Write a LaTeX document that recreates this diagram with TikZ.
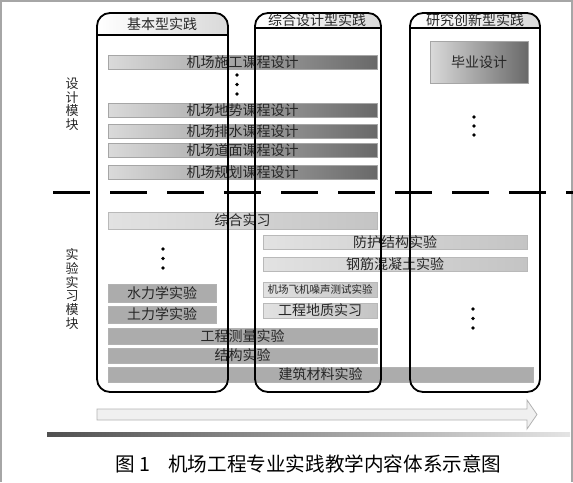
\documentclass[tikz,border=0pt]{standalone}
\usepackage{fontspec}
\setmainfont{Noto Sans CJK SC}
\definecolor{dbL}{RGB}{218,218,218}
\definecolor{dbR}{RGB}{105,105,105}
\definecolor{lbL}{RGB}{226,226,226}
\definecolor{lbR}{RGB}{196,196,196}
\definecolor{mb}{RGB}{172,172,172}
\definecolor{glL}{RGB}{80,80,80}
\definecolor{glR}{RGB}{228,228,228}
\newcommand\mybar[7]{%
  \node (#1) [#2, minimum width={(#4-#3)*1pt}, minimum height={(#6-#5)*1pt}]
    at ({(#3+#4)/2},{(#5+#6)/2}) {#7};}
\begin{document}
\begin{tikzpicture}[x=1pt,y=-1pt,
  colline/.style={line width=1.8pt, draw=black, rounded corners=13pt},
  hdrfill/.style={left color=white, right color=gray!30},
  barbase/.style={inner sep=0pt, outer sep=0pt, text=black!85,
    font=\fontsize{14}{14}\selectfont, line width=0.6pt},
  darkbar/.style={barbase, draw=gray!70, left color=dbL, right color=dbR},
  lightbar/.style={barbase, draw=gray!55, left color=lbL, right color=lbR},
  midbar/.style={barbase, draw=gray!60, fill=mb},
  hdrtext/.style={inner sep=0pt, font=\fontsize{14}{14}\selectfont, text=black!85},
  vlabel/.style={inner sep=0pt, align=center, text=black!85},
  dotmark/.style={fill=black}
]
\useasboundingbox (0,0) rectangle (573,482);
% frame
\draw[gray!70, line width=1.5pt] (0.75,482) -- (0.75,0.75) -- (572,0.75) -- (572,482);

% header fills
\begin{scope}\clip[rounded corners=13pt] (97,13) rectangle (228,392);
  \fill[hdrfill] (97,13) rectangle (228,35);\end{scope}
\begin{scope}\clip[rounded corners=13pt] (255,13) rectangle (381,392);
  \fill[hdrfill] (255,13) rectangle (381,28);\end{scope}
\begin{scope}\clip[rounded corners=13pt] (410,13) rectangle (540,392);
  \fill[hdrfill] (410,13) rectangle (540,28);\end{scope}

% design module bars
\mybar{d1}{darkbar}{108}{377}{55}{69}{机场施工课程设计}
\mybar{d2}{darkbar}{108}{377}{103}{117}{机场地势课程设计}
\mybar{d3}{darkbar}{108}{377}{124}{138}{机场排水课程设计}
\mybar{d4}{darkbar}{108}{377}{143}{157}{机场道面课程设计}
\mybar{d5}{darkbar}{108}{377}{165}{179}{机场规划课程设计}
\mybar{bysj}{darkbar}{430}{528}{41}{83}{毕业设计}

% experiment module bars
\mybar{e1}{lightbar}{108}{377}{212}{229}{综合实习}
\mybar{e2}{lightbar}{263}{527}{235}{249}{防护结构实验}
\mybar{e3}{lightbar}{263}{527}{257}{271}{钢筋混凝土实验}
\mybar{e4}{lightbar, font=\fontsize{10.5}{10.5}\selectfont}{263}{377}{282}{297}{机场飞机噪声测试实验}
\mybar{e5}{lightbar}{263}{377}{303}{318}{工程地质实习}
\mybar{e6}{midbar}{108}{216}{284}{302}{水力学实验}
\mybar{e7}{midbar}{108}{216}{306}{323}{土力学实验}
\mybar{e8}{midbar}{108}{377}{328}{344}{工程测量实验}
\mybar{e9}{midbar}{108}{377}{348}{363}{结构实验}
\mybar{e10}{midbar}{108}{533}{367}{382}{建筑材料实验}

% column outlines
\draw[colline] (97,13) rectangle (228,392);
\draw[line width=1.8pt] (97,35) -- (228,35);
\draw[colline] (255,13) rectangle (381,392);
\draw[line width=1.8pt] (255,28) -- (381,28);
\draw[colline] (410,13) rectangle (540,392);
\draw[line width=1.8pt] (410,28) -- (540,28);

% headers
\node (h1) [hdrtext] at (162,24) {基本型实践};
\node (h2) [hdrtext] at (317,20.5) {综合设计型实践};
\node (h3) [hdrtext] at (475,20.5) {研究创新型实践};

% dashed separator
\draw[line width=3pt, dash pattern=on 37pt off 20pt] (53,192) -- (573,192);

% dots
\foreach \yy in {75,84.5,94} \fill[dotmark] (237,\yy) circle[radius=1.9pt];
\foreach \yy in {117,126,135} \fill[dotmark] (474,\yy) circle[radius=1.9pt];
\foreach \yy in {249,258.5,268} \fill[dotmark] (163,\yy) circle[radius=1.9pt];
\foreach \yy in {309,318.5,328} \fill[dotmark] (473,\yy) circle[radius=1.9pt];

% left labels
\node (lm1) [vlabel, font=\fontsize{13}{13.5}\selectfont] at (72,104) {设\\计\\模\\块};
\node (lm2) [vlabel, font=\fontsize{13}{13.7}\selectfont] at (72,289) {实\\验\\实\\习\\模\\块};

% progression arrow
\draw[draw=gray!60, fill=gray!12, line width=0.8pt]
  (97,409) -- (527,409) -- (527,400) -- (537,414.5) -- (527,429) -- (527,420) -- (97,420) -- cycle;

% gradient rule
\fill[left color=glL, right color=glR] (47,432) rectangle (570,436);

% caption
\node (cap1) [anchor=west, inner sep=0pt, font=\fontsize{19.6}{19.6}\selectfont] at (115,464) {图\hspace{5pt}1};
\node (cap2) [anchor=west, inner sep=0pt, font=\fontsize{19.6}{19.6}\selectfont] at (168,464) {机场工程专业实践教学内容体系示意图};
\end{tikzpicture}
\end{document}
